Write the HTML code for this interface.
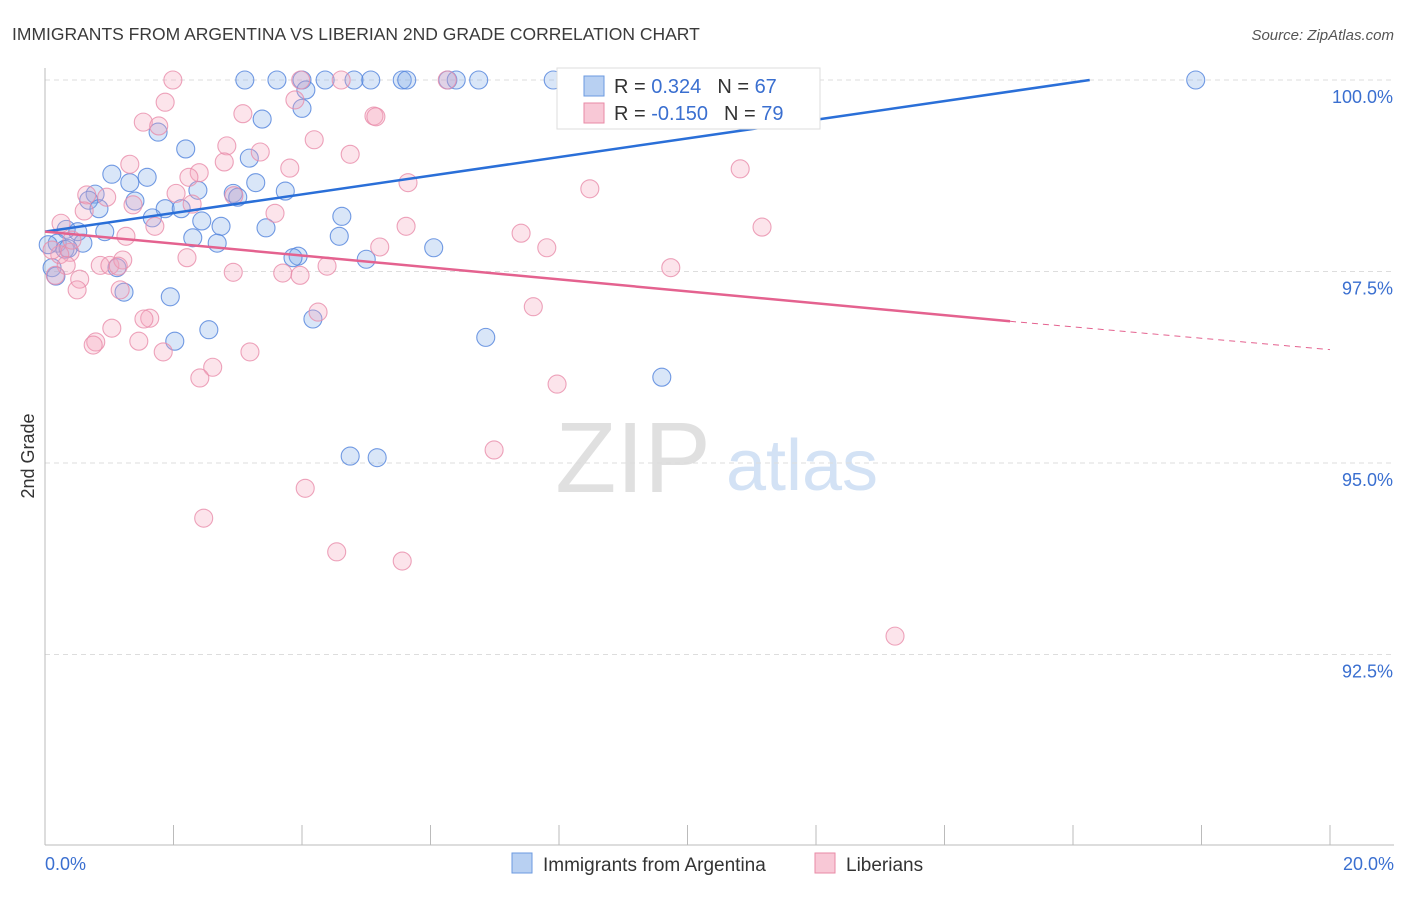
<!DOCTYPE html>
<html><head><meta charset="utf-8"><style>
body{margin:0;background:#fff;font-family:"Liberation Sans",sans-serif}
svg text{font-family:"Liberation Sans",sans-serif}
</style></head><body>
<svg width="1406" height="892" xmlns="http://www.w3.org/2000/svg">
<text x="12" y="40" font-size="17.5" fill="#3a3a3a">IMMIGRANTS FROM ARGENTINA VS LIBERIAN 2ND GRADE CORRELATION CHART</text>
<text x="1394" y="40" font-size="15" fill="#555" font-style="italic" text-anchor="end">Source: ZipAtlas.com</text>
<text x="633" y="492" font-size="100" fill="#e0e0e0" font-family="Liberation Serif" text-anchor="middle">ZIP</text>
<text x="802" y="490" font-size="72" fill="#d3e2f5" text-anchor="middle">atlas</text>
<g id="grid"></g><g id="axes"></g><g id="pts"></g><g id="trends"></g>
<text x="34" y="456" font-size="18" fill="#333" text-anchor="middle" transform="rotate(-90 34 456)">2nd Grade</text>
<g>
<rect x="557" y="68" width="263" height="61" fill="#fff" stroke="#ddd"/>
<rect x="584" y="76" width="20" height="20" fill="#b8d0f2" stroke="#6b9ae0"/>
<text x="614" y="93" font-size="20" fill="#333">R = <tspan fill="#3a6fd0"> 0.324</tspan><tspan dx="16">N = </tspan><tspan fill="#3a6fd0">67</tspan></text>
<rect x="584" y="103" width="20" height="20" fill="#f8c8d6" stroke="#e88aa6"/>
<text x="614" y="120" font-size="20" fill="#333">R = <tspan fill="#3a6fd0">-0.150</tspan><tspan dx="16">N = </tspan><tspan fill="#3a6fd0">79</tspan></text>
</g>
<g>
<rect x="512" y="853" width="20" height="20" fill="#b8d0f2" stroke="#6b9ae0"/>
<text x="543" y="871" font-size="19" fill="#333">Immigrants from Argentina</text>
<rect x="815" y="853" width="20" height="20" fill="#f8c8d6" stroke="#e88aa6"/>
<text x="846" y="871" font-size="19" fill="#333">Liberians</text>
</g>
</svg>
<script>
const blueX=[3.11,3.61,4.0,4.36,4.81,5.07,5.56,5.63,6.27,6.40,6.75,7.91,8.17,17.91,4.06,4.0,3.38,1.76,2.19,3.18,1.04,1.32,1.59,3.28,2.38,2.93,3.74,0.78,0.68,1.40,3.00,0.84,1.87,2.12,1.67,2.44,2.74,4.62,3.44,0.33,0.51,0.93,2.30,2.68,4.58,0.59,0.19,0.05,0.31,6.05,3.94,3.86,5.00,0.11,1.12,0.17,1.23,1.95,4.17,2.55,2.02,6.86,9.60,4.75,5.17,10.82,0.36];
const blueY=[100,100,100,100,100,100,100,100,100,100,100,100,100,100,99.87,99.63,99.49,99.32,99.10,98.98,98.77,98.66,98.73,98.66,98.56,98.52,98.55,98.51,98.43,98.42,98.47,98.32,98.32,98.32,98.20,98.16,98.09,98.22,98.07,98.05,98.02,98.02,97.94,97.87,97.96,97.87,97.87,97.85,97.79,97.81,97.70,97.68,97.66,97.55,97.55,97.44,97.23,97.17,96.88,96.74,96.59,96.64,96.12,95.09,95.07,99.78,97.80];
const pinkX=[1.99,3.98,4.61,6.26,1.87,3.89,3.08,5.12,5.15,1.53,1.77,4.19,2.83,3.35,4.75,1.32,2.79,2.40,3.81,10.82,2.24,5.65,8.48,2.04,0.65,0.96,2.94,1.37,2.29,0.61,3.58,1.71,0.25,5.62,11.16,7.41,1.26,5.21,7.81,0.39,0.23,0.86,1.01,1.21,2.21,1.14,9.74,0.33,2.93,4.39,3.70,3.97,0.54,0.50,1.17,7.60,4.25,1.04,1.63,1.54,0.79,0.75,1.46,1.84,3.19,2.61,2.41,7.97,6.99,4.05,2.47,4.54,5.56,13.23,0.11,0.16,0.42,10.82];
const pinkY=[100,100,100,100,99.71,99.74,99.56,99.53,99.52,99.45,99.40,99.22,99.14,99.06,99.03,98.90,98.93,98.79,98.85,98.84,98.73,98.66,98.58,98.52,98.50,98.47,98.49,98.37,98.38,98.29,98.26,98.09,98.13,98.09,98.08,98.0,97.96,97.82,97.81,97.75,97.72,97.58,97.58,97.65,97.68,97.57,97.55,97.58,97.49,97.57,97.48,97.45,97.40,97.26,97.26,97.04,96.97,96.76,96.89,96.88,96.58,96.54,96.59,96.45,96.45,96.25,96.11,96.03,95.17,94.67,94.28,93.84,93.72,92.74,97.78,97.45,97.91,99.74];
const blueTrendX=[0,16.26], blueTrendY=[98.02,100.0];
const pinkTrendX=[0,15.02,20], pinkTrendY=[98.02,96.85,96.48];
const yTicks=[100,97.5,95,92.5], yTickLabels=["100.0%","97.5%","95.0%","92.5%"];
const xTickLabels=["0.0%","20.0%"];
const NS="http://www.w3.org/2000/svg";
const X=v=>45+v/20*1285, Y=v=>80+(100-v)*76.6;
function mk(p,tag,a){const e=document.createElementNS(NS,tag);for(const k in a)e.setAttribute(k,a[k]);document.getElementById(p).appendChild(e);return e;}
yTicks.forEach((t,i)=>{
 const l=mk('grid','line',{x1:45,x2:1394,y1:Y(t),y2:Y(t),stroke:'#ddd','stroke-dasharray':'5,4'});
 
 
 const tx=mk('grid','text',{x:1393,y:Y(t)+23,'font-size':18,fill:'#3a6fd0','text-anchor':'end'});tx.textContent=yTickLabels[i];
 
 
});
const ax=mk('axes','line',{x1:45,x2:45,y1:68,y2:845,stroke:'#bbb'});


const bx=mk('axes','line',{x1:45,x2:1394,y1:845,y2:845,stroke:'#bbb'});


for(let i=0;i<=10;i++){const t=mk('axes','line',{x1:X(i*2),x2:X(i*2),y1:825,y2:845,stroke:'#bbb'});
 
 }
[[0,'start',45],[1,'end',1394]].forEach(([i,anc,x])=>{const t=mk('axes','text',{x:x,y:870,'font-size':18,fill:'#3a6fd0','text-anchor':anc});t.textContent=xTickLabels[i];
 
 });
blueX.forEach((v,i)=>{const c=mk('pts','circle',{cx:X(v),cy:Y(blueY[i]),r:9,fill:'rgba(130,172,232,0.3)',stroke:'rgba(80,130,220,0.8)','stroke-width':1.1});
 
 });
pinkX.forEach((v,i)=>{const c=mk('pts','circle',{cx:X(v),cy:Y(pinkY[i]),r:9,fill:'rgba(245,165,190,0.3)',stroke:'rgba(232,140,170,0.8)','stroke-width':1.1});
 
 });
const bl=mk('trends','line',{x1:X(blueTrendX[0]),y1:Y(blueTrendY[0]),x2:X(blueTrendX[1]),y2:Y(blueTrendY[1]),stroke:'#2a6fd8','stroke-width':2.5});


const pl=mk('trends','line',{x1:X(pinkTrendX[0]),y1:Y(pinkTrendY[0]),x2:X(pinkTrendX[1]),y2:Y(pinkTrendY[1]),stroke:'#e4628f','stroke-width':2.5});


const pd=mk('trends','line',{x1:X(pinkTrendX[1]),y1:Y(pinkTrendY[1]),x2:X(pinkTrendX[2]),y2:Y(pinkTrendY[2]),stroke:'#e4628f','stroke-width':1,'stroke-dasharray':'6,5'});


</script>
</body></html>
